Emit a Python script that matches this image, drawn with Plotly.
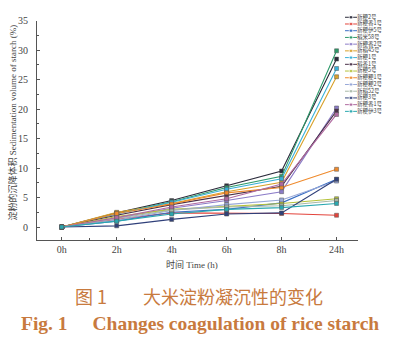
import plotly.graph_objects as go

# Sampling times and their tick labels
time_labels = ["0h", "2h", "4h", "6h", "8h", "24h"]
time_pos = [0, 1, 2, 3, 4, 5]

# Rice varieties
varieties = [
    "新粳2号", "新粳香1号", "新粳伊5号", "稻米58号", "新粳香2号",
    "新稻45号", "新粳1号", "稻香1号", "新粳5号", "新粳粳1号",
    "新粳粳2号", "新稻52号", "新粳3号", "新粳香1号", "新粳伊3号",
]

# Sedimentation volume of starch (%) at each time point
v01 = [0, 2.4, 4.5, 7.0, 9.5, 28.5]
v02 = [0, 1.3, 2.4, 2.3, 2.3, 2.0]
v03 = [0, 1.0, 2.5, 3.0, 4.1, 8.1]
v04 = [0, 2.3, 4.3, 6.7, 8.6, 29.9]
v05 = [0, 1.5, 3.2, 4.5, 6.0, 20.2]
v06 = [0, 2.5, 4.0, 6.0, 7.6, 25.5]
v07 = [0, 2.2, 4.2, 6.4, 8.2, 26.9]
v08 = [0, 2.0, 3.8, 5.4, 6.9, 19.7]
v09 = [0, 1.8, 3.0, 3.5, 4.0, 4.8]
v10 = [0, 2.3, 3.9, 5.8, 6.7, 9.8]
v11 = [0, 1.2, 2.8, 3.8, 4.6, 7.8]
v12 = [0, 1.4, 2.9, 3.4, 3.6, 4.5]
v13 = [0, 0.2, 1.3, 2.2, 2.4, 8.1]
v14 = [0, 1.6, 3.4, 4.8, 7.3, 19.1]
v15 = [0, 1.0, 2.2, 3.0, 3.3, 4.0]
series = [v01, v02, v03, v04, v05, v06, v07, v08, v09, v10, v11, v12, v13, v14, v15]

colors = [
    "#2b2b3b", "#e3443c", "#3a6fc4", "#2e9a6a", "#8c7cc8",
    "#d8a12a", "#3ab0d8", "#4a3048", "#b5c23a", "#ef8a2c",
    "#98a8d8", "#a8b8a8", "#30407a", "#b06aa0", "#2aa8b0",
]

y_ticks = [0, 5, 10, 15, 20, 25, 30, 35]

# Figure geometry (pixels): plot box spans x 37..358, y 5..240; data axis stops at y=16
W, H = 400, 342
L, R, T, B = 37, 358, 5, 240
PW, PH = R - L, B - T


def px(x):
    return (x - L) / PW


def py(y):
    return (B - y) / PH


fig = go.Figure()

for name, vals, col in zip(varieties, series, colors):
    fig.add_trace(go.Scatter(
        x=time_pos, y=vals, name=name, mode="lines+markers",
        line=dict(color=col, width=1.1),
        marker=dict(symbol="square", size=4, color=col,
                    line=dict(color="#555", width=0.5)),
        showlegend=False,
    ))

# Compact key drawn on an overlay axis: one short line + marker + label per variety
n = len(varieties)
for i, (name, col) in enumerate(zip(varieties, colors)):
    yk = n - 1 - i
    fig.add_trace(go.Scatter(
        x=[0, 0.5, 1], y=[yk, yk, yk], mode="lines+markers+text",
        line=dict(color=col, width=1),
        marker=dict(symbol="square", size=[0, 3.5, 0], color=col),
        text=["", "", name], textposition="middle right",
        textfont=dict(size=5.5, color="#444", family="Noto Sans CJK SC"),
        cliponaxis=False,
        xaxis="x2", yaxis="y2", showlegend=False, hoverinfo="skip",
    ))

axis_font = dict(family="Liberation Serif", size=10, color="#444")
title_font = dict(family="Liberation Serif, Noto Sans CJK SC", size=9, color="#444")
caption_color = "#c87a3e"

fig.update_layout(
    width=W, height=H,
    margin=dict(l=L, r=W - R, t=T, b=H - B),
    paper_bgcolor="white", plot_bgcolor="white",
    showlegend=False,
    xaxis=dict(
        range=[-0.45, 5.39], tickmode="array", tickvals=time_pos, ticktext=time_labels,
        showgrid=False, zeroline=False, showline=True, linecolor="#555", linewidth=1,
        ticks="inside", ticklen=3, tickcolor="#555", tickfont=axis_font,
        minor=dict(tickmode="array", tickvals=[0.5, 1.5, 2.5, 3.5, 4.5],
                   ticks="inside", ticklen=2, tickcolor="#555"),
    ),
    yaxis=dict(
        domain=[0, py(16)],
        range=[-2.2, 35], tickmode="array", tickvals=y_ticks,
        showgrid=False, zeroline=False, showline=True, linecolor="#555", linewidth=1,
        ticks="inside", ticklen=3, tickcolor="#555", tickfont=axis_font,
        ticklabelstandoff=6,
        minor=dict(dtick=2.5, ticks="inside", ticklen=2, tickcolor="#555"),
    ),
    xaxis2=dict(domain=[px(345), px(357)], range=[0, 1], visible=False,
                anchor="y2", fixedrange=True),
    yaxis2=dict(domain=[py(112), py(9)], range=[-0.5, n - 0.5],
                visible=False, anchor="x2", fixedrange=True),
    annotations=[
        dict(text="淀粉的沉降体积 Sedimentation volume of starch (%)",
             x=px(13), y=py(120), xref="paper", yref="paper",
             xanchor="center", yanchor="middle",
             showarrow=False, textangle=-90, font=title_font),
        dict(text="时间 Time (h)", x=px(192), y=py(265),
             xref="paper", yref="paper", xanchor="center", yanchor="middle",
             showarrow=False, font=title_font),
        dict(text="图 1　　大米淀粉凝沉性的变化", x=px(199), y=py(297),
             xref="paper", yref="paper", xanchor="center", yanchor="middle",
             showarrow=False,
             font=dict(family="Noto Sans CJK SC", size=18, color=caption_color)),
        dict(text="<b>Fig. 1　 Changes coagulation of rice starch</b>",
             x=px(200), y=py(325), xref="paper", yref="paper",
             xanchor="center", yanchor="middle", showarrow=False,
             font=dict(family="Liberation Serif", size=19.5, color=caption_color)),
    ],
)

fig.write_html("out.html")
